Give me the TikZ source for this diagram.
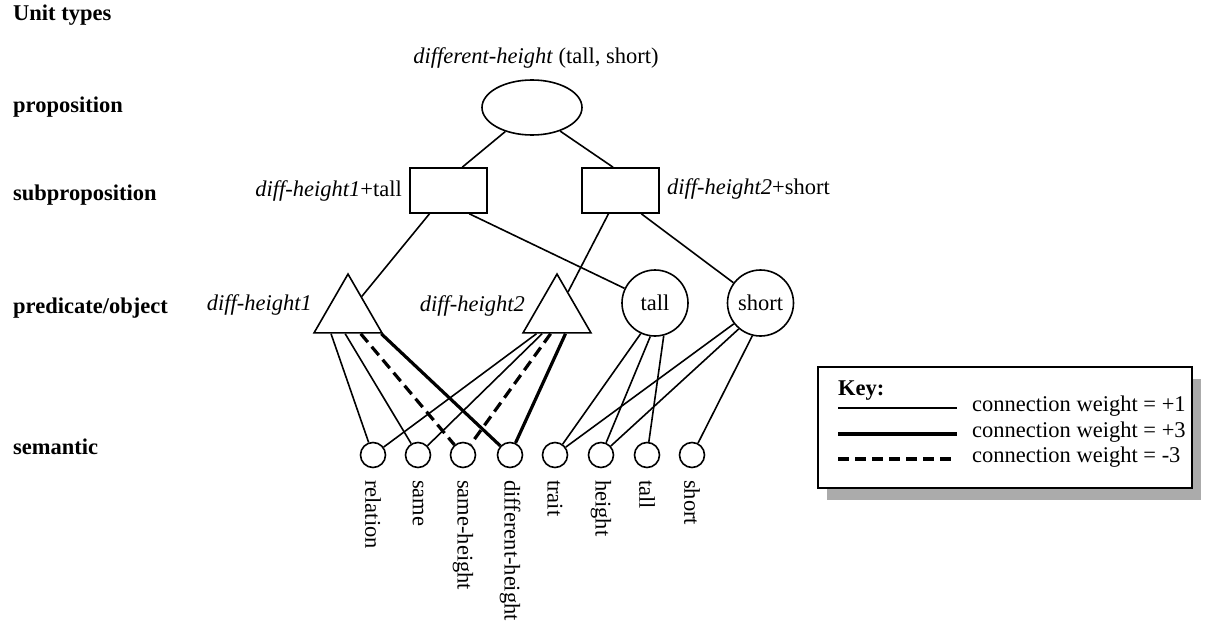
\documentclass[tikz,border=0pt]{standalone}
\usepackage{fontspec}
\setmainfont{Liberation Serif}
\usetikzlibrary{shapes.geometric,calc,shadows}
\begin{document}
\begin{tikzpicture}[x=1pt,y=-1pt,
  every node/.style={font=\fontsize{22.5}{27}\selectfont, inner sep=0pt},
  shp/.style={draw, line width=1.6pt, fill=white},
  lvl/.style={anchor=west, font=\fontsize{22.5}{27}\selectfont\bfseries},
  sem/.style={shp, circle, minimum size=25pt},
  obj/.style={shp, circle, minimum size=66pt},
  tri/.style={shp, regular polygon, regular polygon sides=3, minimum size=78.5pt},
  subbox/.style={shp, rectangle, minimum width=77pt, minimum height=45pt},
  semlab/.style={rotate=-90, anchor=west},
  wone/.style={line width=1.6pt},
  wthree/.style={line width=3.2pt},
  wneg/.style={line width=3.2pt, dash pattern=on 11pt off 6pt},
]
\useasboundingbox (0,0) rectangle (1205,626);

% level labels
\node[lvl] (ut) at (13,15) {Unit types};
\node[lvl] (lp) at (13,107) {proposition};
\node[lvl] (ls) at (13,195) {subproposition};
\node[lvl] (lpo) at (13,308) {predicate/object};
\node[lvl] (lsem) at (13,447) {semantic};

% proposition
\node[shp, ellipse, minimum width=100pt, minimum height=55pt] (E) at (532,107.5) {};
\node (Elab) at (536,58) {\textit{different-height} (tall, short)};

% subpropositions
\node[subbox] (R1) at (448.5,190.5) {};
\node[subbox] (R2) at (620.5,190.5) {};
\node[anchor=east] (R1lab) at (402,191) {\textit{diff-height1}+tall};
\node[anchor=west] (R2lab) at (667,189) {\textit{diff-height2}+short};

% predicates / objects
\node[tri] (T1) at (348,313.3) {};
\node[tri] (T2) at (557,313.3) {};
\node[anchor=east] (T1lab) at (312,305) {\textit{diff-height1}};
\node[anchor=east] (T2lab) at (525,306) {\textit{diff-height2}};
\node[obj] (OT) at (655,303) {tall};
\node[obj] (OS) at (760.5,303) {short};

% semantic units
\foreach \n/\x/\t in {s1/373/relation, s2/418/same, s3/463/same-height, s4/510/different-height, s5/555/trait, s6/601/height, s7/647/tall, s8/692/short}{
  \node[sem] (\n) at (\x,455) {};
  \node[semlab] (\n lab) at (\x,480) {\t};
}

% connections
\draw[wone] (E.222) -- ($(R1.north)!0.35!(R1.north east)$);
\draw[wone] (E.320) -- ($(R2.north)!0.19!(R2.north west)$);
\draw[wone] (R1) -- (T1);
\draw[wone] ($(R1.south)!0.53!(R1.south east)$) -- (OT);
\draw[wone] (R2) -- (T2);
\draw[wone] ($(R2.south)!0.53!(R2.south east)$) -- (OS);

\draw[wone] ($(T1.corner 2)!0.26!(T1.corner 3)$) -- (s1);
\draw[wone] ($(T1.corner 2)!0.46!(T1.corner 3)$) -- (s2);
\draw[wneg] ($(T1.corner 2)!0.68!(T1.corner 3)$) -- (s3);
\draw[wthree] ($(T1.corner 2)!0.97!(T1.corner 3)$) -- (s4);

\draw[wone] ($(T2.corner 2)!0.21!(T2.corner 3)$) -- (s1);
\draw[wone] ($(T2.corner 2)!0.29!(T2.corner 3)$) -- (s2);
\draw[wneg] ($(T2.corner 2)!0.41!(T2.corner 3)$) -- (s3);
\draw[wthree] ($(T2.corner 2)!0.62!(T2.corner 3)$) -- (s4);

\draw[wone] (OT.245) -- (s5);
\draw[wone] (OT.262) -- (s6);
\draw[wone] (OT.285) -- (s7);
\draw[wone] (OS.218) -- (s5);
\draw[wone] (OS.230) -- (s6);
\draw[wone] (OS.256) -- (s8);

% key
\node[draw, line width=1.4pt, fill=white, minimum width=374pt, minimum height=121pt,
      drop shadow={shadow xshift=9pt, shadow yshift=-12pt, fill=black!33, opacity=1}] (K) at (1005,427.5) {};
\node[anchor=west, font=\fontsize{22.5}{27}\selectfont\bfseries] (Kt) at (838,391) {Key:};
\coordinate (k1a) at (838,408); \coordinate (k1b) at (957,408);
\coordinate (k2a) at (838,434); \coordinate (k2b) at (957,434);
\coordinate (k3a) at (838,459); \coordinate (k3b) at (957,459);
\draw[wone] (k1a) -- (k1b);
\draw[wthree] (k2a) -- (k2b);
\draw[wneg] (k3a) -- (k3b);
\node[anchor=west] (kt1) at (972,406) {connection weight = +1};
\node[anchor=west] (kt2) at (972,432) {connection weight = +3};
\node[anchor=west] (kt3) at (972,457) {connection weight = -3};
\end{tikzpicture}
\end{document}
